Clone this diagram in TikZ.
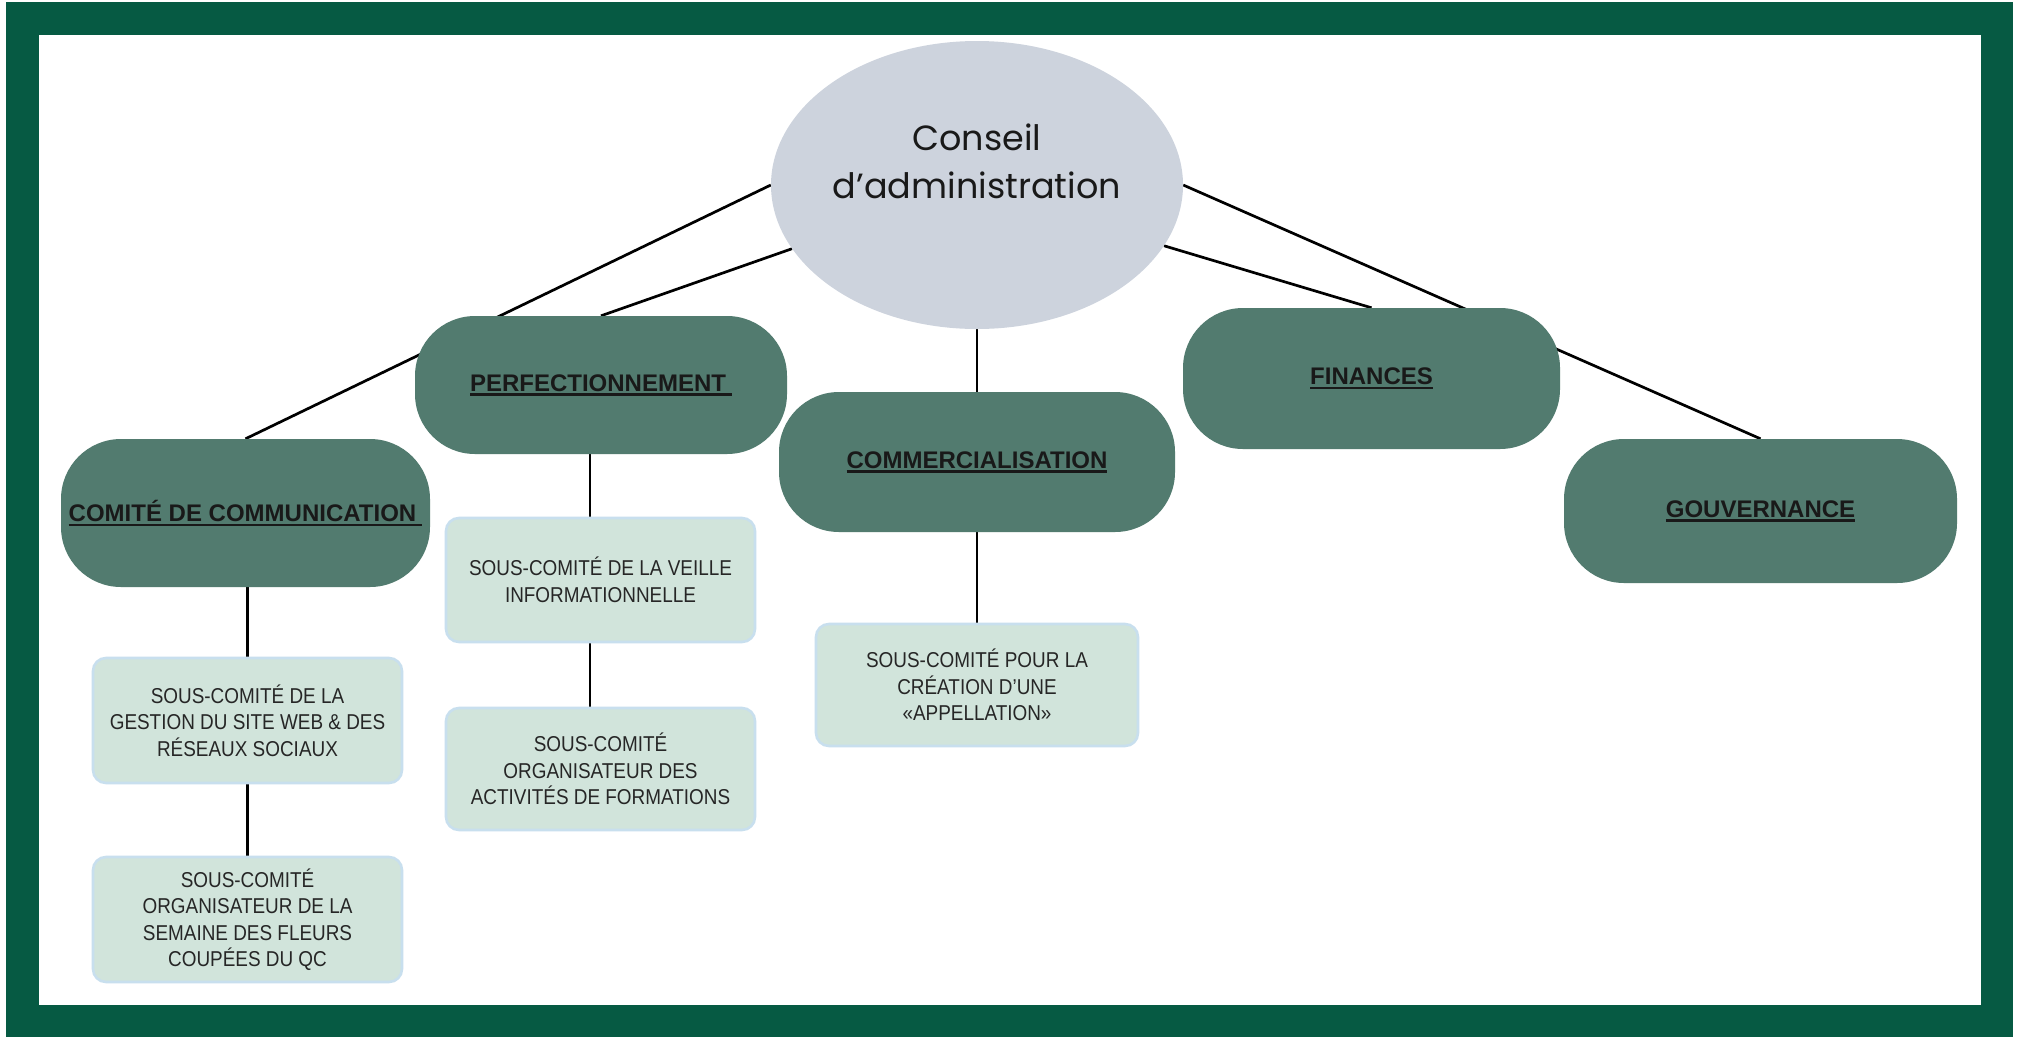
\documentclass[tikz,border=0pt]{standalone}
\usepackage{fontspec}
\setmainfont{Liberation Sans}
\newfontfamily\popfont{Poppins}
\newfontfamily\narrowfont[FakeStretch=0.88]{Liberation Sans}
\usetikzlibrary{shapes.geometric,calc}
\definecolor{framegreen}{RGB}{6,90,67}
\definecolor{gfill}{RGB}{82,123,111}
\definecolor{ellfill}{RGB}{205,211,221}
\definecolor{lfill}{RGB}{209,228,219}
\definecolor{lborder}{RGB}{200,223,238}
\newcommand{\myul}[1]{\leavevmode\setbox0=\hbox{#1}\rlap{\rule[-4.7pt]{\wd0}{2.3pt}}\box0}
\pgfdeclarelayer{framelayer}
\pgfdeclarelayer{bg}
\pgfsetlayers{framelayer,bg,main}
\tikzset{
  gbox/.style={fill=gfill, rounded corners=60pt, inner sep=0pt, align=center,
    font=\fontsize{24}{28}\selectfont\bfseries, text=black!90},
  lbox/.style={fill=lfill, draw=lborder, line width=2.6pt, rounded corners=13pt,
    inner sep=0pt, align=center, minimum width=309pt, font=\narrowfont\fontsize{21.5}{26.5}\selectfont, text=black!85},
  conn/.style={line width=2.7pt, black},
  council/.style={ellipse, fill=ellfill, inner sep=0pt, minimum width=412pt, minimum height=288pt},
  counciltext/.style={align=center, font=\popfont\fontsize{35}{48}\selectfont, text=black!90, inner sep=0pt}
}
\begin{document}
\begin{tikzpicture}[x=1pt,y=-1pt]
\useasboundingbox (0,0) rectangle (2021,1037);
\begin{pgfonlayer}{framelayer}
  \fill[white] (0,0) rectangle (2021,1037);
  \fill[framegreen] (6,2) rectangle (2013,1037);
  \fill[white] (39,35) rectangle (1981,1005);
\end{pgfonlayer}

% council
\node[council] (ca) at (977,185) {};
\node[counciltext] (catext) at (977,161) {Conseil\\d’administration};

% committees
\node[gbox, minimum width=372pt, minimum height=138pt] (perf) at (601,385) {\myul{PERFECTIONNEMENT\hspace{6pt}}};
\node[gbox, minimum width=369pt, minimum height=148pt] (com) at (245.5,513) {\myul{COMITÉ DE COMMUNICATION\hspace{6pt}}};
\node[gbox, minimum width=396pt, minimum height=140pt] (comm) at (977,462) {\myul{COMMERCIALISATION}};
\node[gbox, minimum width=377pt, minimum height=141pt] (fin) at (1371.5,378.5) {\myul{FINANCES}};
\node[gbox, minimum width=393pt, minimum height=144pt] (gouv) at (1760.5,511) {\myul{GOUVERNANCE}};

% sub-committees
\node[lbox, minimum height=124pt] (veille) at (600.5,580) {SOUS-COMITÉ DE LA VEILLE\\INFORMATIONNELLE};
\node[lbox, minimum height=122pt] (act) at (600.5,769) {SOUS-COMITÉ\\ORGANISATEUR DES\\ACTIVITÉS DE FORMATIONS};
\node[lbox, minimum height=125pt] (gest) at (247.5,720.5) {SOUS-COMITÉ DE LA\\GESTION DU SITE WEB \& DES\\RÉSEAUX SOCIAUX};
\node[lbox, minimum height=125pt] (sem) at (247.5,919.5) {SOUS-COMITÉ\\ORGANISATEUR DE LA\\SEMAINE DES FLEURS\\COUPÉES DU QC};
\node[lbox, minimum width=322pt, minimum height=122pt] (app) at (977,685) {SOUS-COMITÉ POUR LA\\CRÉATION D’UNE\\«APPELLATION»};

% connectors
\begin{pgfonlayer}{bg}
  \draw[conn] (ca.west) -- (com.north);
  \draw[conn] (ca.199) -- (perf.north);
  \draw[conn] (ca.south) -- (comm.north);
  \draw[conn] (ca.342) -- (fin.north);
  \draw[conn] (ca.east) -- (gouv.north);
  \draw[conn] ([xshift=-11pt]perf.south) -- ([xshift=-11pt]perf.south |- veille.north);
  \draw[conn] ([xshift=-10.5pt]veille.south) -- ([xshift=-10.5pt]act.north);
  \draw[conn] (gest.north |- com.south) -- (gest.north);
  \draw[conn] (gest.south) -- (sem.north);
  \draw[conn] (comm.south) -- (app.north);
\end{pgfonlayer}
\end{tikzpicture}
\end{document}
